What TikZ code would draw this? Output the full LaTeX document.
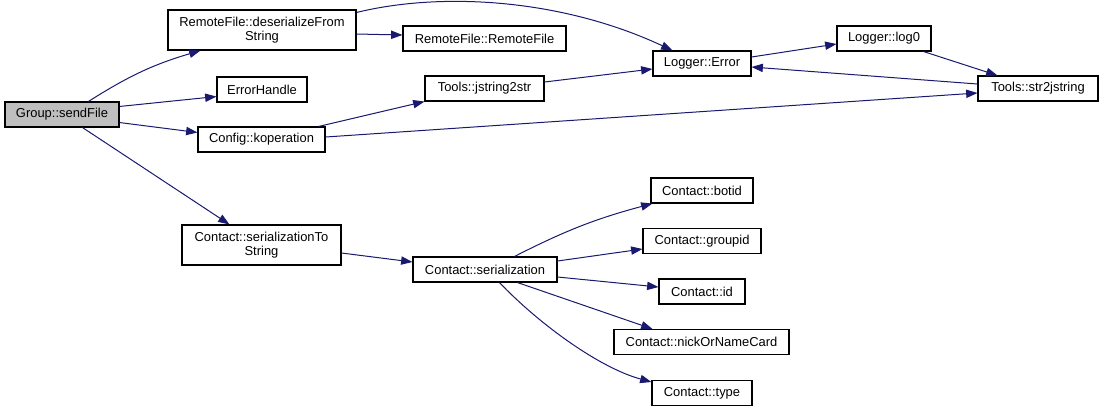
\documentclass[tikz,border=0pt]{standalone}
\usepackage{fontspec}
\setmainfont{Liberation Sans}
\usetikzlibrary{arrows.meta,calc}
\definecolor{edgec}{HTML}{191970}
\definecolor{hl}{HTML}{BFBFBF}
\begin{document}
\begin{tikzpicture}[x=0.75pt,y=-0.75pt,
  fn/.style={draw=black,line width=0.8pt,fill=white,inner sep=0pt,minimum height=18.75pt,
    align=center,font=\fontsize{9.7}{10.8}\selectfont},
  call/.style={draw=edgec,line width=0.75pt,-{Triangle[length=8.5pt,width=6.2pt]},fill=none},
]
\useasboundingbox (0,0) rectangle (1103,412);
\node[fn,fill=hl,minimum width=85.5pt] (send) at (62,114.5) {Group::sendFile};
\node[fn,minimum width=141pt,minimum height=30pt] (deser) at (262,30) {RemoteFile::deserializeFrom\\String};
\node[fn,minimum width=67.5pt] (errh) at (262,89.5) {ErrorHandle};
\node[fn,minimum width=95.25pt] (kop) at (261.5,139.5) {Config::koperation};
\node[fn,minimum width=122.25pt] (rfrf) at (484.5,38.5) {RemoteFile::RemoteFile};
\node[fn,minimum width=89.25pt] (js2s) at (484.5,88.5) {Tools::jstring2str};
\node[fn,minimum width=73.5pt] (lerr) at (702,63.5) {Logger::Error};
\node[fn,minimum width=70.5pt] (log0) at (884,38.5) {Logger::log0};
\node[fn,minimum width=90pt] (s2js) at (1038,88.5) {Tools::str2jstring};
\node[fn,minimum width=119.25pt,minimum height=30pt] (sts) at (261.5,245) {Contact::serializationTo\\String};
\node[fn,minimum width=108pt] (ser) at (485,269.5) {Contact::serialization};
\node[fn,minimum width=76.5pt] (botid) at (702,190.5) {Contact::botid};
\node[fn,minimum width=88.5pt] (gid) at (702,241) {Contact::groupid};
\node[fn,minimum width=64.5pt] (cid) at (702,291.5) {Contact::id};
\node[fn,minimum width=131.25pt] (nick) at (701.5,342) {Contact::nickOrNameCard};
\node[fn,minimum width=75pt] (ctype) at (702,393) {Contact::type};

\draw[call] ($(send.north west)+(84,0)$) to[bend left=8] ($(deser.south west)+(33,0)$);
\draw[call] ($(send.north east)+(0,5)$) -- ($(errh.south west)+(0,-6)$);
\draw[call] ($(send.south east)+(0,-5)$) -- ($(kop.north west)+(0,6)$);
\draw[call] ($(send.south west)+(78,0)$) -- ($(sts.north west)+(48,0)$);
\draw[call] ($(deser.east)+(0,4)$) -- ($(rfrf.west)+(0,-3.5)$);
\draw[call] ($(deser.north east)+(0,3)$) .. controls (440,-8) and (560,-2) .. ($(lerr.north west)+(20,0)$);
\draw[call] ($(kop.north east)+(-7,0)$) -- (js2s.south west);
\draw[call] ($(kop.east)+(0,-2.5)$) -- ($(s2js.west)+(0,4.5)$);
\draw[call] ($(js2s.east)+(0,-6.5)$) -- ($(lerr.west)+(0,5.5)$);
\draw[call] ($(lerr.east)+(0,-6.5)$) -- ($(log0.west)+(0,5.5)$);
\draw[call] ($(log0.south east)+(-8,0)$) -- ($(s2js.north west)+(20,0)$);
\draw[call] ($(s2js.west)+(0,-4.5)$) -- ($(lerr.east)+(0,3.5)$);
\draw[call] ($(sts.east)+(0,8)$) -- ($(ser.west)+(0,-7.5)$);
\draw[call] ($(ser.north west)+(102,0)$) to[bend left=6] ($(botid.south west)+(2,0)$);
\draw[call] ($(ser.east)+(0,-8.5)$) -- ($(gid.west)+(0,8)$);
\draw[call] ($(ser.east)+(0,7.5)$) -- ($(cid.west)+(0,-4.5)$);
\draw[call] ($(ser.south west)+(105,0)$) -- ($(nick.north west)+(39,0)$);
\draw[call] ($(ser.south west)+(87,0)$) .. controls (540,325) and (600,368) .. ($(ctype.west)+(0,-11)$);
\end{tikzpicture}
\end{document}
